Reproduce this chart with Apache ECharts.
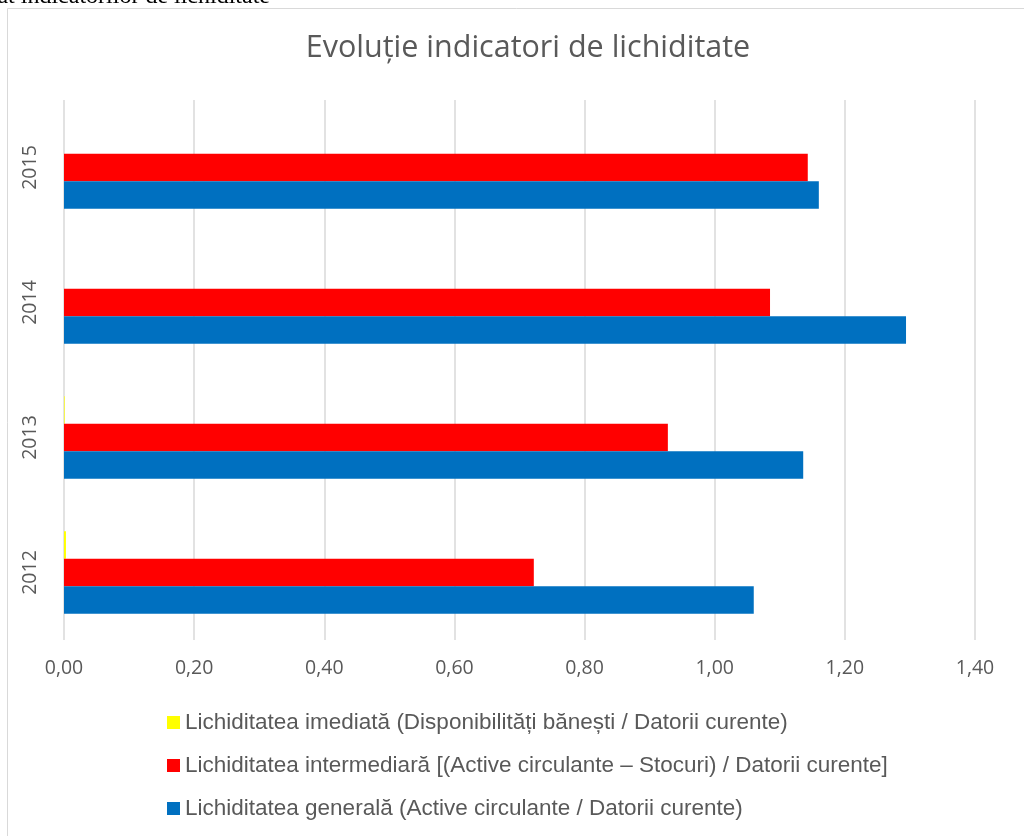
<!DOCTYPE html>
<html>
<head>
<meta charset="utf-8">
<script src="https://cdn.jsdelivr.net/npm/echarts@6/dist/echarts.min.js"></script>
<style>
  html, body { margin: 0; padding: 0; background: #fff; }
  #chart { width: 1024px; height: 836px; }
</style>
</head>
<body>
<div id="chart"></div>
<script>
var years = ['2012', '2013', '2014', '2015'];
var imediata = [0.003, 0.001, 0, 0];
var intermediara = [0.722, 0.928, 1.085, 1.143];
var generala = [1.060, 1.136, 1.294, 1.160];
var xTicks = { min: 0, max: 1.4, interval: 0.2 };

var numeImediata = 'Lichiditatea imediată (Disponibilități bănești / Datorii curente)';
var numeIntermediara = 'Lichiditatea intermediară [(Active circulante – Stocuri) / Datorii curente]';
var numeGenerala = 'Lichiditatea generală (Active circulante / Datorii curente)';

var chart = echarts.init(document.getElementById('chart'));

var option = {
  animation: false,
  backgroundColor: '#fff',
  title: {
    text: 'Evoluție indicatori de lichiditate',
    left: 523,
    top: 28,
    textAlign: 'center',
    textStyle: {
      fontFamily: 'Open Sans',
      fontWeight: 'normal',
      fontSize: 30.5,
      color: '#595959'
    }
  },
  graphic: [
    {
      type: 'rect',
      shape: { x: 7.5, y: 8.5, width: 1030, height: 840 },
      style: { fill: 'none', stroke: '#d9d9d9', lineWidth: 1 },
      z: -1
    },
    {
      // legenda figurii din document, taiata sus
      type: 'text',
      x: 270,
      y: 9,
      style: {
        text: 'Figura 3. Rezultat indicatorilor de lichiditate',
        align: 'right',
        verticalAlign: 'bottom',
        font: '24px "Liberation Serif"',
        fill: '#000'
      }
    }
  ],
  legend: {
    orient: 'vertical',
    left: 167,
    top: 711,
    padding: 0,
    itemWidth: 13,
    itemHeight: 13,
    itemGap: 20,
    icon: 'rect',
    data: [numeImediata, numeIntermediara, numeGenerala],
    textStyle: {
      fontFamily: 'Liberation Sans',
      fontSize: 22.5,
      lineHeight: 22,
      color: '#595959',
      padding: 0
    }
  },
  grid: {
    left: 64,
    right: 49,
    top: 100,
    bottom: 196,
    containLabel: false
  },
  xAxis: {
    type: 'value',
    min: xTicks.min,
    max: xTicks.max,
    interval: xTicks.interval,
    axisLine: { show: false },
    axisTick: { show: false },
    splitLine: { lineStyle: { color: '#d9d9d9', width: 1.5 } },
    axisLabel: {
      margin: 18,
      fontFamily: 'Open Sans',
      fontSize: 19.5,
      color: '#595959',
      formatter: function (v) { return v.toFixed(2).replace('.', ','); }
    }
  },
  yAxis: {
    type: 'category',
    data: years,
    axisLine: { show: false },
    axisTick: { show: false },
    axisLabel: {
      rotate: 90,
      margin: 24,
      fontFamily: 'Open Sans',
      fontSize: 19.5,
      color: '#595959'
    }
  },
  series: [
    {
      name: numeImediata,
      type: 'bar',
      data: imediata,
      itemStyle: { color: '#ffff00' },
      barGap: '0%',
      barCategoryGap: '39%'
    },
    {
      name: numeIntermediara,
      type: 'bar',
      data: intermediara,
      itemStyle: { color: '#ff0000' },
      barGap: '0%',
      barCategoryGap: '39%'
    },
    {
      name: numeGenerala,
      type: 'bar',
      data: generala,
      itemStyle: { color: '#0070c0' },
      barGap: '0%',
      barCategoryGap: '39%'
    }
  ]
};

chart.setOption(option);
</script>
</body>
</html>
